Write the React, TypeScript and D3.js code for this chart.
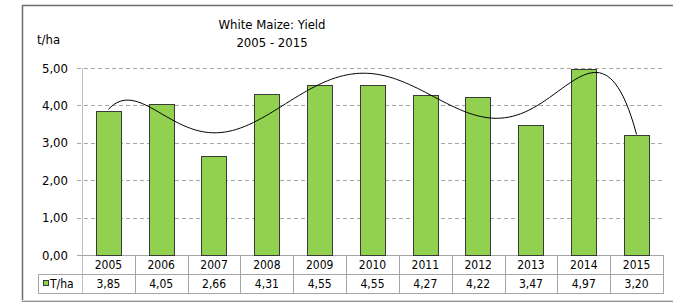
import { useEffect, useRef } from 'react';
import * as d3 from 'd3';

const years = ['2005', '2006', '2007', '2008', '2009', '2010', '2011', '2012', '2013', '2014', '2015'];
const yields = [3.85, 4.05, 2.66, 4.31, 4.55, 4.55, 4.27, 4.22, 3.47, 4.97, 3.20];
const yTicks = [0, 1, 2, 3, 4, 5];
const seriesName = 'T/ha';
const titleLines = ['White Maize:  Yield', '2005 - 2015'];
const unitLabel = 't/ha';

const fmt = (v: number) => v.toFixed(2).replace('.', ',');

// least-squares polynomial fit (like Excel's polynomial trendline, order 6)
function polyFit(xs: number[], ys: number[], order: number): number[] {
    const n = order + 1;
    const A: number[][] = Array.from({ length: n }, () => new Array(n + 1).fill(0));
    xs.forEach((x, k) => {
        for (let i = 0; i < n; i++) {
            for (let j = 0; j < n; j++) A[i][j] += Math.pow(x, i + j);
            A[i][n] += Math.pow(x, i) * ys[k];
        }
    });
    for (let c = 0; c < n; c++) {
        let p = c;
        for (let r = c + 1; r < n; r++) if (Math.abs(A[r][c]) > Math.abs(A[p][c])) p = r;
        [A[c], A[p]] = [A[p], A[c]];
        for (let r = 0; r < n; r++) {
            if (r === c) continue;
            const f = A[r][c] / A[c][c];
            for (let k = c; k <= n; k++) A[r][k] -= f * A[c][k];
        }
    }
    return A.map((row, i) => row[n] / row[i]);
}

const App = () => {
    const svgRef = useRef<SVGSVGElement>(null);

    useEffect(() => {
        if (!svgRef.current) return;
        const svg = d3.select(svgRef.current);
        svg.selectAll('*').remove();

        const font = "'DejaVu Sans Condensed', 'DejaVu Sans', sans-serif";
        const left = 82, right = 663, top = 68, bottom = 255;
        const rowH = 19;

        // outer frame
        svg.append('rect')
            .attr('x', 22.5).attr('y', 5.5)
            .attr('width', 700).attr('height', 295.5)
            .attr('fill', '#fff')
            .attr('stroke', '#6e6e6e')
            .attr('stroke-width', 1.5);
        svg.append('line')
            .attr('x1', 22).attr('x2', 673).attr('y1', 300.5).attr('y2', 300.5)
            .attr('stroke', '#d9d9d9');

        const x = d3.scaleBand().domain(years).range([left, right]).paddingInner(0.52).paddingOuter(0.26);
        const xc = d3.scaleBand().domain(years).range([left, right]);
        const y = d3.scaleLinear().domain([0, 5]).range([bottom, top]);

        // gridlines
        svg.append('g')
            .selectAll('line')
            .data(yTicks.filter(t => t > 0))
            .enter().append('line')
            .attr('x1', left - 5).attr('x2', right)
            .attr('y1', d => Math.round(y(d)) + 0.5).attr('y2', d => Math.round(y(d)) + 0.5)
            .attr('stroke', '#a6a6a6')
            .attr('stroke-dasharray', '4,3');

        // y axis
        svg.append('line')
            .attr('x1', left + 0.5).attr('x2', left + 0.5)
            .attr('y1', top).attr('y2', bottom + rowH * 2 + 1)
            .attr('stroke', '#bfbfbf');
        svg.append('line')
            .attr('x1', left - 5).attr('x2', right + 1)
            .attr('y1', bottom + 0.5).attr('y2', bottom + 0.5)
            .attr('stroke', '#a6a6a6');
        svg.append('g')
            .selectAll('text')
            .data(yTicks)
            .enter().append('text')
            .attr('x', 68).attr('y', d => y(d))
            .attr('dy', '0.35em')
            .attr('text-anchor', 'end')
            .style('font-family', font)
            .style('font-size', '13px')
            .attr('fill', '#000')
            .text(d => fmt(d));

        // bars
        svg.append('g')
            .selectAll('rect')
            .data(yields)
            .enter().append('rect')
            .attr('x', (d, i) => Math.round(x(years[i])!) + 0.5)
            .attr('y', d => Math.round(y(d)) + 0.5)
            .attr('width', Math.round(x.bandwidth()))
            .attr('height', d => bottom - Math.round(y(d)))
            .attr('fill', '#92d050')
            .attr('stroke', '#3a3a3a')
            .attr('stroke-width', 1);

        // polynomial trendline
        const xs = yields.map((_, i) => (i - 5) / 5);
        const coef = polyFit(xs, yields, 6);
        const evalPoly = (t: number) => coef.reduce((s, c, k) => s + c * Math.pow(t, k), 0);
        const pts = d3.range(0, 10.001, 0.05).map(i => [
            xc(years[0])! + xc.bandwidth() / 2 + i * xc.step(),
            y(evalPoly((i - 5) / 5)),
        ] as [number, number]);
        svg.append('path')
            .attr('d', d3.line()(pts))
            .attr('fill', 'none')
            .attr('stroke', '#000')
            .attr('stroke-width', 1);

        // data table
        const tbl = svg.append('g');
        const lineCol = '#a6a6a6';
        tbl.append('line')
            .attr('x1', 38).attr('x2', right + 1)
            .attr('y1', bottom + rowH + 0.5).attr('y2', bottom + rowH + 0.5)
            .attr('stroke', lineCol);
        tbl.append('line')
            .attr('x1', 38).attr('x2', right + 1)
            .attr('y1', bottom + rowH * 2 + 0.5).attr('y2', bottom + rowH * 2 + 0.5)
            .attr('stroke', lineCol);
        tbl.append('line')
            .attr('x1', 38.5).attr('x2', 38.5)
            .attr('y1', bottom + rowH).attr('y2', bottom + rowH * 2 + 1)
            .attr('stroke', lineCol);
        tbl.selectAll('line.v')
            .data(years)
            .enter().append('line')
            .attr('class', 'v')
            .attr('x1', d => Math.round(xc(d)! + xc.bandwidth()) + 0.5)
            .attr('x2', d => Math.round(xc(d)! + xc.bandwidth()) + 0.5)
            .attr('y1', bottom).attr('y2', bottom + rowH * 2 + 1)
            .attr('stroke', lineCol);
        tbl.selectAll('text.yr')
            .data(years)
            .enter().append('text')
            .attr('class', 'yr')
            .attr('x', d => xc(d)! + xc.bandwidth() / 2)
            .attr('y', bottom + 14)
            .attr('text-anchor', 'middle')
            .style('font-family', font)
            .style('font-size', '12px')
            .text(d => d);
        tbl.selectAll('text.val')
            .data(yields)
            .enter().append('text')
            .attr('class', 'val')
            .attr('x', (d, i) => xc(years[i])! + xc.bandwidth() / 2)
            .attr('y', bottom + rowH + 14)
            .attr('text-anchor', 'middle')
            .style('font-family', font)
            .style('font-size', '12px')
            .text(d => fmt(d));
        tbl.append('rect')
            .attr('x', 43.5).attr('y', bottom + rowH + 6.5)
            .attr('width', 5).attr('height', 5)
            .attr('fill', '#92d050')
            .attr('stroke', '#3a3a3a');
        tbl.append('text')
            .attr('x', 50).attr('y', bottom + rowH + 14)
            .style('font-family', font)
            .style('font-size', '12px')
            .text(seriesName);

        // titles
        svg.append('text')
            .attr('x', 272).attr('y', 29)
            .attr('text-anchor', 'middle')
            .style('font-family', font)
            .style('font-size', '13px')
            .text(titleLines[0]);
        svg.append('text')
            .attr('x', 272).attr('y', 47)
            .attr('text-anchor', 'middle')
            .style('font-family', font)
            .style('font-size', '13px')
            .text(titleLines[1]);
        svg.append('text')
            .attr('x', 37).attr('y', 44)
            .style('font-family', font)
            .style('font-size', '13px')
            .text(unitLabel);
    }, []);

    return (
        <svg ref={svgRef} width={673} height={302}
            style={{ position: 'absolute', left: 0, top: 0, background: '#fff' }} />
    );
};

export default App;
